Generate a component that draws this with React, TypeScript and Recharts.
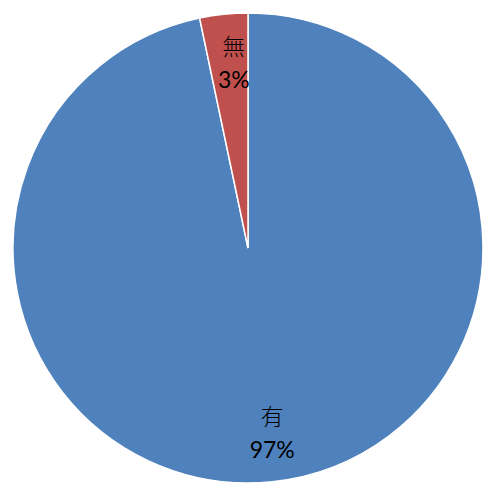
import { PieChart, Pie, Cell } from "recharts";

const categories = ["有", "無"];
const values = [96.7, 3.3];
const colors = ["#4F81BD", "#C0504D"];

const data = categories.map((name, i) => ({ name, value: values[i] }));
const total = values.reduce((a, b) => a + b, 0);

const RADIAN = Math.PI / 180;

function renderLabel(props: any) {
  const { cx, cy, midAngle, outerRadius, index } = props;
  const r = outerRadius * 0.79;
  const x = cx + r * Math.cos(-midAngle * RADIAN) + 5;
  const y = cy + r * Math.sin(-midAngle * RADIAN);
  const pct = Math.round((values[index] / total) * 100) + "%";
  return (
    <g>
      <text
        x={x}
        y={y - 18}
        textAnchor="middle"
        dominantBaseline="central"
        fontFamily="'Noto Sans CJK TC', sans-serif"
        fontWeight={300}
        fontSize={23}
        fill="#000"
      >
        {categories[index]}
      </text>
      <text
        x={x}
        y={y + 16}
        textAnchor="middle"
        dominantBaseline="central"
        fontFamily="Lato, sans-serif"
        fontSize={23}
        fill="#000"
      >
        {pct}
      </text>
    </g>
  );
}

export default function App() {
  return (
    <div style={{ position: "fixed", left: 0, top: 0, width: 485, height: 484, background: "#fff" }}>
      <PieChart width={485} height={484} margin={{ top: 0, right: 0, bottom: 0, left: 0 }}>
        <Pie
          data={data}
          dataKey="value"
          nameKey="name"
          cx={248}
          cy={248}
          outerRadius={235}
          startAngle={90}
          endAngle={-270}
          stroke="#fff"
          strokeWidth={1.5}
          label={renderLabel}
          labelLine={false}
          isAnimationActive={false}
        >
          {data.map((d, i) => (
            <Cell key={d.name} fill={colors[i]} />
          ))}
        </Pie>
      </PieChart>
    </div>
  );
}
